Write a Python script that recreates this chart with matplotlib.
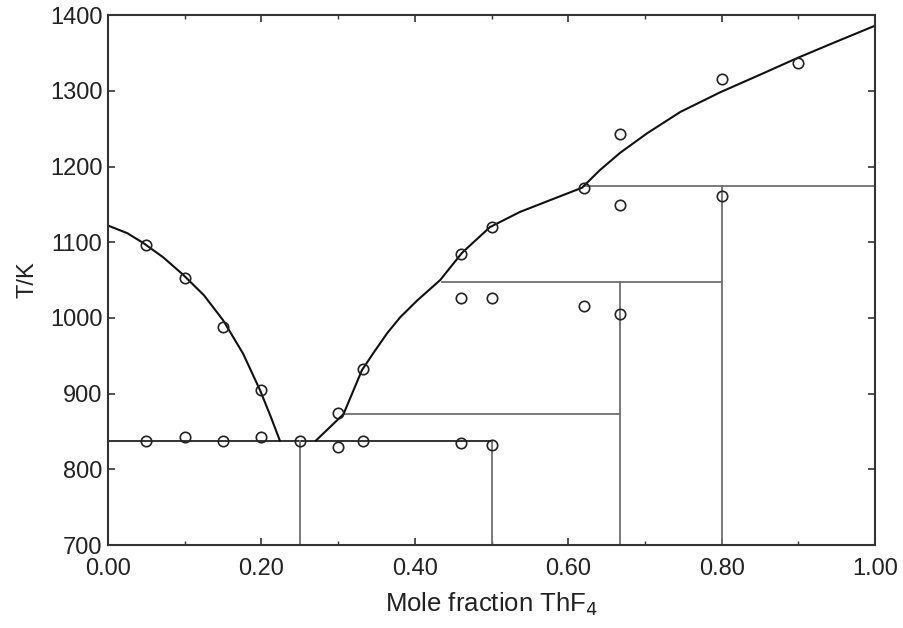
import matplotlib
matplotlib.use("Agg")
import matplotlib.pyplot as plt
from matplotlib.ticker import MultipleLocator

plt.rcParams['font.family'] = ['Liberation Sans', 'DejaVu Sans']

# Experimental points
pts_x = [0.05, 0.05, 0.10, 0.10, 0.15, 0.15, 0.20, 0.20, 0.25, 0.30, 0.30, 0.333, 0.333,
         0.46, 0.46, 0.46, 0.50, 0.50, 0.50, 0.62, 0.62, 0.667, 0.667, 0.667, 0.80, 0.80, 0.90]
pts_T = [1097, 837, 1053, 843, 988, 837, 905, 843, 837, 874, 829, 932, 837,
         1084, 1026, 835, 1120, 1026, 832, 1016, 1171, 1243, 1149, 1005, 1315, 1161, 1337]

# Liquidus curves
left_x = [0.0, 0.025, 0.046, 0.072, 0.098, 0.125, 0.15, 0.176, 0.198, 0.212, 0.224]
left_T = [1122, 1112, 1099, 1080, 1057, 1030, 997, 953, 905, 870, 838]
right_x = [0.271, 0.307, 0.331, 0.3455, 0.364, 0.381, 0.403, 0.433, 0.4615, 0.498, 0.537,
           0.58, 0.618, 0.641, 0.6675, 0.703, 0.746, 0.798, 0.854, 0.898, 0.945, 1.0]
right_T = [838, 873, 931, 953, 980, 1001, 1023, 1050, 1086, 1120, 1140,
           1157, 1172, 1195, 1218, 1244, 1272, 1298, 1323, 1343, 1363, 1386]

# Invariant (horizontal) lines: T, x_start, x_end
h_T = [838, 873, 1047, 1174]
h_x0 = [0.0, 0.307, 0.435, 0.62]
h_x1 = [0.5, 0.667, 0.8, 1.0]
# Compound (vertical) lines: x, T_top
v_x = [0.25, 0.5, 0.667, 0.8]
v_T = [838, 838, 1047, 1174]

fig = plt.figure(figsize=(9.04, 6.28), dpi=100)
ax = fig.add_axes([0.1195, 0.132, 0.8485, 0.844])

line_gray = '#707070'
for T, a, b in zip(h_T, h_x0, h_x1):
    ax.plot([a, b], [T, T], color=line_gray if T != 838 else '#222222', lw=1.3)
for x, T in zip(v_x, v_T):
    ax.plot([x, x], [700, T], color=line_gray, lw=1.3)

ax.plot(left_x, left_T, color='#111111', lw=1.5)
ax.plot(right_x, right_T, color='#111111', lw=1.5)
ax.plot(pts_x, pts_T, 'o', mfc='none', mec='#222222', ms=7.5, mew=1.2)

ax.set_xlim(0, 1)
ax.set_ylim(700, 1400)
ax.xaxis.set_major_locator(MultipleLocator(0.2))
ax.xaxis.set_minor_locator(MultipleLocator(0.1))
ax.yaxis.set_major_locator(MultipleLocator(100))
ax.set_xticks([0, 0.2, 0.4, 0.6, 0.8, 1.0])
ax.set_xticklabels(['0.00', '0.20', '0.40', '0.60', '0.80', '1.00'])
ax.tick_params(which='both', direction='in', top=True, right=True, labelsize=17,
               color='#333333', labelcolor='#222222')
ax.tick_params(which='major', length=5, width=1.2)
ax.tick_params(which='minor', length=3, width=1.0)
ax.tick_params(axis='x', which='both', pad=9)
ax.tick_params(axis='y', which='both', pad=4)
for s in ax.spines.values():
    s.set_linewidth(1.5)
    s.set_color('#333333')

ax.set_xlabel('Mole fraction ThF$_4$', fontsize=18.5, labelpad=8, color='#222222')
ax.set_ylabel('T/K', fontsize=17, labelpad=8, color='#222222')

fig.savefig('out.png', dpi=100)
